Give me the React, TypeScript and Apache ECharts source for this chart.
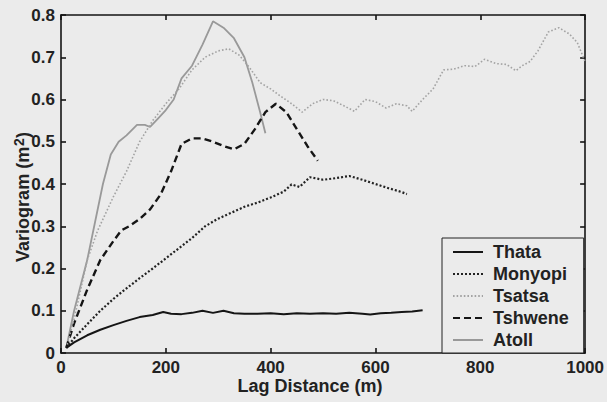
import React, { useEffect, useRef } from "react";
import * as echarts from "echarts";

const xTicks = [0, 200, 400, 600, 800, 1000];
const seriesNames = ["Thata", "Monyopi", "Tsatsa", "Tshwene", "Atoll"];

const thata: [number, number][] = [
  [10, 0.012], [25, 0.025], [50, 0.042], [75, 0.055], [100, 0.066], [125, 0.076],
  [150, 0.085], [175, 0.09], [195, 0.097], [210, 0.093], [230, 0.092], [250, 0.095],
  [270, 0.1], [290, 0.095], [310, 0.1], [330, 0.094], [350, 0.093], [375, 0.093],
  [400, 0.094], [425, 0.092], [450, 0.094], [475, 0.093], [500, 0.094], [525, 0.093],
  [550, 0.095], [575, 0.093], [590, 0.091], [610, 0.094], [630, 0.095], [650, 0.097],
  [670, 0.098], [690, 0.101],
];

const monyopi: [number, number][] = [
  [10, 0.012], [25, 0.035], [50, 0.068], [75, 0.1], [100, 0.128], [125, 0.153],
  [150, 0.177], [175, 0.2], [200, 0.224], [225, 0.248], [250, 0.272], [275, 0.3],
  [300, 0.318], [325, 0.332], [350, 0.346], [375, 0.356], [400, 0.368], [425, 0.382],
  [440, 0.399], [455, 0.393], [475, 0.416], [500, 0.41], [525, 0.414], [550, 0.419],
  [575, 0.41], [600, 0.4], [625, 0.39], [650, 0.381], [660, 0.376],
];

const tsatsa: [number, number][] = [
  [10, 0.012], [25, 0.08], [50, 0.22], [70, 0.29], [100, 0.37], [125, 0.43],
  [150, 0.5], [175, 0.55], [200, 0.59], [225, 0.625], [250, 0.67], [275, 0.7],
  [300, 0.715], [320, 0.72], [340, 0.705], [360, 0.675], [380, 0.64], [400, 0.625],
  [420, 0.607], [440, 0.59], [460, 0.57], [480, 0.59], [500, 0.6], [520, 0.597],
  [540, 0.585], [560, 0.572], [580, 0.6], [600, 0.595], [620, 0.58], [640, 0.59],
  [660, 0.585], [670, 0.572], [690, 0.6], [710, 0.625], [730, 0.67], [750, 0.672],
  [770, 0.68], [790, 0.678], [808, 0.695], [830, 0.685], [850, 0.683], [868, 0.668],
  [880, 0.68], [895, 0.69], [910, 0.715], [930, 0.76], [950, 0.77], [970, 0.755],
  [985, 0.735], [1000, 0.69],
];

const tshwene: [number, number][] = [
  [10, 0.012], [25, 0.07], [50, 0.15], [75, 0.22], [100, 0.265], [115, 0.29],
  [130, 0.3], [150, 0.317], [170, 0.34], [190, 0.375], [210, 0.43], [230, 0.495],
  [250, 0.508], [270, 0.508], [290, 0.5], [310, 0.49], [330, 0.482], [350, 0.495],
  [370, 0.53], [390, 0.57], [410, 0.59], [430, 0.57], [450, 0.53], [470, 0.49],
  [490, 0.455],
];

const atoll: [number, number][] = [
  [10, 0.012], [25, 0.1], [50, 0.22], [65, 0.31], [80, 0.4], [95, 0.47],
  [110, 0.5], [125, 0.515], [145, 0.54], [160, 0.54], [170, 0.535], [185, 0.555],
  [200, 0.575], [215, 0.6], [230, 0.65], [250, 0.68], [270, 0.73], [290, 0.785],
  [310, 0.77], [330, 0.745], [350, 0.7], [365, 0.64], [380, 0.57], [390, 0.52],
];

const FONT = "Liberation Sans, Arial, sans-serif";
const PAPER = "#ebebeb";
const INK = "#151515";

export default function App() {
  const ref = useRef<HTMLDivElement>(null);
  useEffect(() => {
    if (!ref.current) return;
    const chart = echarts.init(ref.current, undefined, { renderer: "svg" });
    const axisLine = { onZero: false, lineStyle: { color: INK, width: 1.6 } };
    const axisTick = { inside: true, length: 5, lineStyle: { color: INK, width: 1.6 } };
    const label = { fontSize: 17, fontWeight: "bold", fontFamily: FONT, color: "#222" };
    const xBase = { type: "value", min: xTicks[0], max: xTicks[xTicks.length - 1], interval: 200, splitLine: { show: false }, axisLine, axisTick };
    const yBase = { type: "value", min: 0, max: 0.8, interval: 0.1, splitLine: { show: false }, axisLine, axisTick };
    const styles = [
      { color: INK, width: 2, type: "solid" },
      { color: "#222", width: 2.2, type: [2, 2] },
      { color: "#a3a3a3", width: 1.6, type: [1.6, 2] },
      { color: INK, width: 2.4, type: [7, 4] },
      { color: "#999", width: 1.8, type: "solid" },
    ];
    const datas = [thata, monyopi, tsatsa, tshwene, atoll];
    chart.setOption({
      animation: false,
      backgroundColor: PAPER,
      grid: { left: 61, right: 17, top: 15, bottom: 49 },
      xAxis: [
        { ...xBase, position: "bottom", axisLabel: { ...label, margin: 6, formatter: (v: number) => String(v) } },
        { ...xBase, position: "top", axisLabel: { show: false } },
      ],
      yAxis: [
        { ...yBase, position: "left", axisLabel: { ...label, margin: 6, formatter: (v: number) => String(Math.round(v * 10) / 10) } },
        { ...yBase, position: "right", axisLabel: { show: false } },
      ],
      legend: {
        data: seriesNames,
        orient: "vertical",
        left: 442,
        top: 238,
        padding: [5, 15, 4, 10],
        itemWidth: 30,
        itemHeight: 14,
        itemGap: 4,
        borderColor: "#222",
        borderWidth: 1,
        backgroundColor: PAPER,
        itemStyle: { opacity: 0, borderWidth: 0 },
        textStyle: { fontSize: 18, fontWeight: "bold", fontFamily: FONT, color: "#222", padding: [0, 0, 0, 5] },
      },
      series: seriesNames.map((name, i) => ({
        name,
        type: "line",
        data: datas[i],
        symbol: "none",
        showSymbol: false,
        lineStyle: styles[i],
        itemStyle: { color: styles[i].color },
        z: 5 - i,
      })),
      graphic: [
        {
          type: "text",
          x: 310,
          y: 386,
          style: { text: "Lag Distance (m)", fontSize: 18, fontWeight: "bold", fontFamily: FONT, fill: "#222", align: "center", verticalAlign: "middle" },
        },
        {
          type: "text",
          x: 23,
          y: 197,
          rotation: Math.PI / 2,
          style: {
            text: "Variogram (m{sup|2})",
            fontSize: 18,
            fontWeight: "bold",
            fontFamily: FONT,
            fill: "#222",
            align: "center",
            verticalAlign: "middle",
            rich: { sup: { fontSize: 14, fontWeight: "bold", fontFamily: FONT, fill: "#222", verticalAlign: "top", padding: [0, 0, 8, 1] } },
          },
        },
      ],
    });
    return () => chart.dispose();
  }, []);
  return <div ref={ref} style={{ position: "fixed", left: 0, top: 0, width: 607, height: 402 }} />;
}
